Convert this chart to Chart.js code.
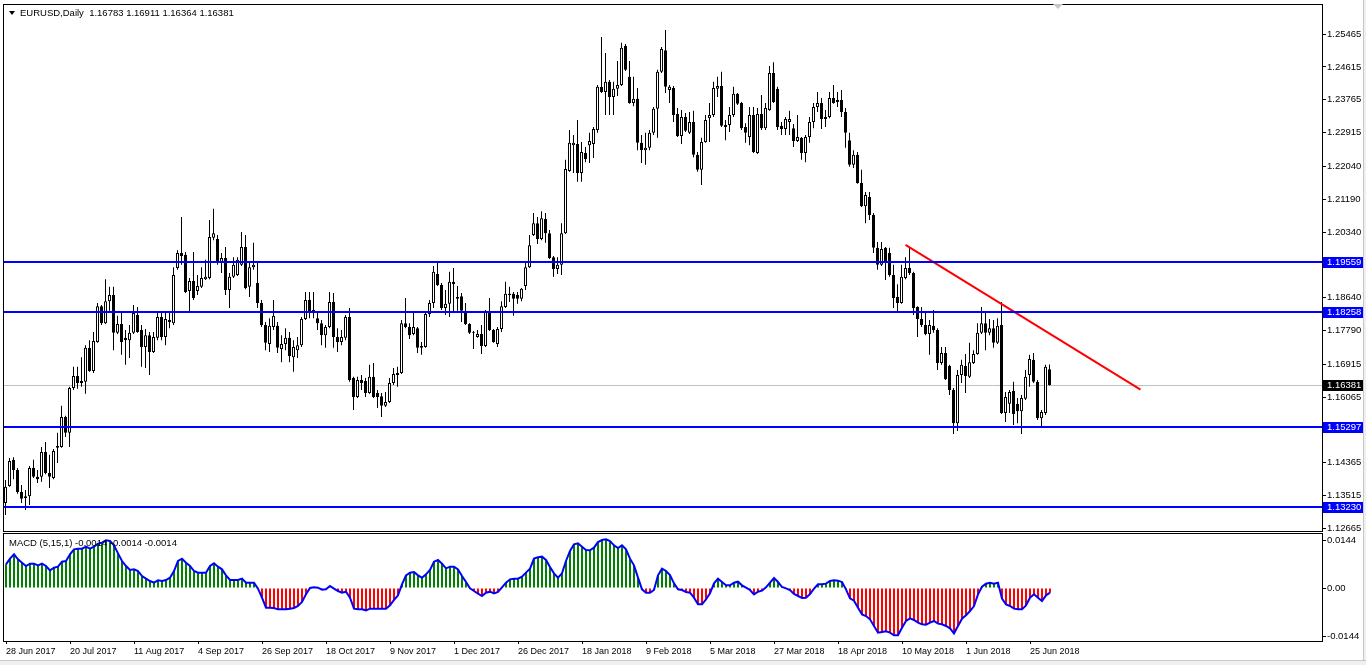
<!DOCTYPE html>
<html><head><meta charset="utf-8">
<script src="https://cdn.jsdelivr.net/npm/chart.js@4.4.1/dist/chart.umd.min.js"></script>
<style>
html,body{margin:0;padding:0;background:#fff;width:1366px;height:665px;overflow:hidden;position:relative;}
canvas{position:absolute;left:0;}
#c1{top:0;}
#c2{top:532px;}
#edgeR{position:absolute;left:1363px;top:0;width:3px;height:665px;background:#f0f0f0;border-left:1px solid #c8c8c8;}
#edgeB{position:absolute;left:0;top:660px;width:1366px;height:5px;background:#f0f0f0;border-top:1px solid #c8c8c8;}
</style></head>
<body>
<canvas id="c1" width="1366" height="532" style="width:1366px;height:532px"></canvas>
<canvas id="c2" width="1366" height="133" style="width:1366px;height:133px"></canvas>
<div id="edgeR"></div><div id="edgeB"></div>
<script>
// ---------------- DATA ----------------
const symbolTitle = 'EURUSD,Daily';
const open = [
1.1332,1.1376,1.1444,1.1418,1.1361,1.1345,1.1350,1.1423,1.1400,1.1400,
1.1464,1.1410,1.1397,1.1475,1.1477,1.1555,1.1514,1.1630,1.1661,1.1643,
1.1646,1.1734,1.1674,1.1749,1.1842,1.1798,1.1855,1.1871,1.1773,1.1796,
1.1760,1.1754,1.1773,1.1819,1.1780,1.1736,1.1767,1.1723,1.1760,1.1814,
1.1762,1.1801,1.1798,1.1941,1.1980,1.1975,1.1881,1.1907,1.1881,1.1892,
1.1912,1.1915,1.2019,1.2016,1.1954,1.1967,1.1884,1.1918,1.1923,1.1949,
1.1995,1.1892,1.1943,1.1902,1.1850,1.1793,1.1744,1.1788,1.1791,1.1731,
1.1744,1.1760,1.1710,1.1728,1.1741,1.1809,1.1858,1.1824,1.1811,1.1798,
1.1767,1.1788,1.1853,1.1762,1.1749,1.1760,1.1814,1.1656,1.1607,1.1651,
1.1648,1.1617,1.1659,1.1617,1.1609,1.1584,1.1594,1.1643,1.1664,1.1669,
1.1798,1.1788,1.1770,1.1785,1.1734,1.1736,1.1822,1.1850,1.1925,1.1897,
1.1837,1.1848,1.1905,1.1866,1.1868,1.1830,1.1796,1.1773,1.1762,1.1770,
1.1739,1.1827,1.1780,1.1744,1.1783,1.1840,1.1871,1.1874,1.1871,1.1861,
1.1894,1.1943,1.2026,1.2057,1.2016,1.2068,1.2031,1.1969,1.1938,1.1949,
1.2031,1.2192,1.2259,1.2262,1.2187,1.2239,1.2259,1.2262,1.2298,1.2410,
1.2397,1.2423,1.2384,1.2405,1.2415,1.2516,1.2436,1.2368,1.2379,1.2265,
1.2246,1.2252,1.2291,1.2353,1.2449,1.2505,1.2402,1.2407,1.2340,1.2283,
1.2332,1.2291,1.2319,1.2234,1.2195,1.2267,1.2329,1.2337,1.2405,1.2412,
1.2311,1.2311,1.2337,1.2392,1.2368,1.2306,1.2280,1.2337,1.2239,1.2340,
1.2303,1.2350,1.2446,1.2405,1.2309,1.2301,1.2319,1.2303,1.2270,1.2278,
1.2239,1.2280,1.2319,1.2358,1.2368,1.2327,1.2332,1.2381,1.2376,1.2376,
1.2345,1.2272,1.2208,1.2234,1.2161,1.2101,1.2125,1.2078,1.1993,1.1949,
1.1993,1.1980,1.1923,1.1866,1.1850,1.1915,1.1941,1.1928,1.1840,1.1809,
1.1793,1.1770,1.1791,1.1780,1.1695,1.1721,1.1687,1.1625,1.1539,1.1664,
1.1687,1.1659,1.1695,1.1718,1.1773,1.1798,1.1773,1.1785,1.1747,1.1793,
1.1565,1.1589,1.1622,1.1589,1.1570,1.1602,1.1664,1.1703,1.1646,1.1552,
1.1565,1.16783];
const high = [
1.1392,1.1449,1.1451,1.1423,1.1379,1.1366,1.1428,1.1444,1.1418,1.1477,
1.1490,1.1457,1.1472,1.1514,1.1584,1.1558,1.1633,1.1685,1.1685,1.1710,
1.1741,1.1754,1.1775,1.1850,1.1845,1.1912,1.1892,1.1892,1.1817,1.1827,
1.1780,1.1793,1.1845,1.1840,1.1793,1.1783,1.1775,1.1775,1.1827,1.1827,
1.1824,1.1824,1.1943,1.1987,1.2073,1.1982,1.1915,1.1982,1.1923,1.1943,
1.1962,1.2065,1.2094,1.2026,1.1980,1.1995,1.1928,1.1969,1.1969,1.2034,
1.2026,1.1954,1.2006,1.1954,1.1858,1.1801,1.1811,1.1858,1.1801,1.1767,
1.1785,1.1775,1.1754,1.1762,1.1814,1.1879,1.1879,1.1879,1.1827,1.1806,
1.1793,1.1879,1.1876,1.1785,1.1780,1.1819,1.1837,1.1659,1.1659,1.1664,
1.1656,1.1690,1.1695,1.1625,1.1617,1.1620,1.1656,1.1682,1.1685,1.1806,
1.1863,1.1798,1.1824,1.1788,1.1749,1.1824,1.1858,1.1946,1.1956,1.1902,
1.1884,1.1931,1.1941,1.1894,1.1876,1.1850,1.1798,1.1778,1.1780,1.1793,
1.1832,1.1863,1.1783,1.1788,1.1855,1.1905,1.1892,1.1879,1.1879,1.1889,
1.1956,1.2026,1.2083,1.2073,1.2088,1.2083,1.2039,1.1972,1.1969,1.2057,
1.2221,1.2298,1.2285,1.2324,1.2267,1.2254,1.2291,1.2306,1.2415,1.2539,
1.2498,1.2428,1.2423,1.2477,1.2524,1.2521,1.2477,1.2436,1.2407,1.2285,
1.2291,1.2298,1.2358,1.2454,1.2513,1.2557,1.2415,1.2412,1.2355,1.2350,
1.2342,1.2345,1.2348,1.2241,1.2278,1.2337,1.2368,1.2423,1.2436,1.2449,
1.2324,1.2358,1.2410,1.2394,1.2371,1.2316,1.2358,1.2358,1.2355,1.2389,
1.2368,1.2464,1.2474,1.2410,1.2319,1.2332,1.2348,1.2314,1.2337,1.2280,
1.2285,1.2332,1.2368,1.2397,1.2381,1.2350,1.2397,1.2415,1.2397,1.2402,
1.2355,1.2291,1.2246,1.2241,1.2195,1.2138,1.2138,1.2083,1.2008,1.2008,
1.1995,1.1993,1.1949,1.1899,1.1949,1.1969,1.1995,1.1931,1.1842,1.1840,
1.1824,1.1806,1.1832,1.1785,1.1736,1.1736,1.1690,1.1630,1.1677,1.1703,
1.1718,1.1747,1.1728,1.1798,1.1840,1.1824,1.1809,1.1806,1.1811,1.1853,
1.1620,1.1625,1.1646,1.1604,1.1612,1.1677,1.1716,1.1721,1.1651,1.1573,
1.1690,1.16911];
const low = [
1.1301,1.1374,1.1394,1.1356,1.1332,1.1314,1.1327,1.1397,1.1384,1.1387,
1.1407,1.1371,1.1394,1.1436,1.1475,1.1503,1.1477,1.1625,1.1628,1.1633,
1.1615,1.1672,1.1669,1.1747,1.1793,1.1796,1.1830,1.1728,1.1770,1.1716,
1.1690,1.1708,1.1770,1.1773,1.1685,1.1682,1.1664,1.1721,1.1754,1.1754,
1.1741,1.1785,1.1793,1.1936,1.1949,1.1876,1.1824,1.1858,1.1871,1.1889,
1.1910,1.1912,1.2013,1.1949,1.1928,1.1871,1.1837,1.1915,1.1920,1.1946,
1.1886,1.1866,1.1936,1.1837,1.1788,1.1728,1.1723,1.1780,1.1721,1.1697,
1.1728,1.1697,1.1672,1.1708,1.1736,1.1806,1.1811,1.1811,1.1780,1.1741,
1.1734,1.1785,1.1734,1.1723,1.1741,1.1754,1.1646,1.1573,1.1604,1.1625,
1.1607,1.1615,1.1604,1.1578,1.1555,1.1581,1.1591,1.1638,1.1633,1.1666,
1.1785,1.1757,1.1767,1.1721,1.1716,1.1734,1.1814,1.1837,1.1894,1.1832,
1.1819,1.1814,1.1827,1.1830,1.1801,1.1793,1.1770,1.1731,1.1760,1.1718,
1.1736,1.1778,1.1747,1.1736,1.1775,1.1837,1.1853,1.1817,1.1848,1.1855,
1.1884,1.1941,1.2024,1.2003,1.2013,1.2006,1.1964,1.1918,1.1925,1.1923,
1.2029,1.2190,1.2187,1.2164,1.2164,1.2215,1.2213,1.2226,1.2291,1.2394,
1.2337,1.2337,1.2337,1.2386,1.2412,1.2451,1.2366,1.2360,1.2246,1.2213,
1.2208,1.2246,1.2285,1.2278,1.2446,1.2394,1.2368,1.2319,1.2280,1.2262,
1.2293,1.2288,1.2228,1.2190,1.2156,1.2265,1.2267,1.2332,1.2384,1.2306,
1.2272,1.2293,1.2332,1.2363,1.2298,1.2265,1.2259,1.2239,1.2236,1.2298,
1.2298,1.2348,1.2368,1.2298,1.2285,1.2285,1.2285,1.2254,1.2267,1.2221,
1.2215,1.2265,1.2303,1.2345,1.2301,1.2306,1.2329,1.2366,1.2358,1.2332,
1.2252,1.2203,1.2200,1.2159,1.2099,1.2057,1.2065,1.1980,1.1936,1.1946,
1.1910,1.1918,1.1837,1.1824,1.1848,1.1912,1.1923,1.1819,1.1762,1.1788,
1.1767,1.1716,1.1773,1.1677,1.1690,1.1651,1.1612,1.1511,1.1519,1.1643,
1.1617,1.1656,1.1692,1.1716,1.1770,1.1728,1.1767,1.1734,1.1744,1.1563,
1.1542,1.1565,1.1534,1.1539,1.1511,1.1599,1.1633,1.1643,1.1547,1.1529,
1.1560,1.16364];
const close = [
1.1374,1.1441,1.1418,1.1361,1.1343,1.1350,1.1423,1.1400,1.1394,1.1464,
1.1410,1.1400,1.1467,1.1480,1.1555,1.1514,1.1630,1.1661,1.1643,1.1648,
1.1734,1.1674,1.1752,1.1842,1.1798,1.1855,1.1871,1.1773,1.1796,1.1749,
1.1754,1.1773,1.1824,1.1775,1.1736,1.1767,1.1723,1.1762,1.1814,1.1762,
1.1809,1.1806,1.1923,1.1980,1.1972,1.1879,1.1907,1.1863,1.1894,1.1915,
1.1918,1.2021,1.2031,1.1954,1.1967,1.1884,1.1918,1.1949,1.1962,1.1995,
1.1889,1.1943,1.1949,1.1850,1.1793,1.1747,1.1791,1.1817,1.1734,1.1744,
1.1760,1.1713,1.1736,1.1741,1.1809,1.1858,1.1827,1.1832,1.1798,1.1767,
1.1788,1.1853,1.1762,1.1749,1.1762,1.1814,1.1651,1.1607,1.1651,1.1643,
1.1617,1.1659,1.1607,1.1607,1.1584,1.1594,1.1643,1.1666,1.1669,1.1798,
1.1788,1.1767,1.1788,1.1734,1.1739,1.1822,1.1850,1.1931,1.1897,1.1837,
1.1848,1.1905,1.1899,1.1861,1.1830,1.1796,1.1773,1.1775,1.1770,1.1739,
1.1827,1.1780,1.1749,1.1783,1.1842,1.1874,1.1874,1.1861,1.1861,1.1887,
1.1943,1.2000,1.2057,1.2016,1.2070,1.2031,1.1967,1.1938,1.1949,1.2031,
1.2197,1.2265,1.2265,1.2187,1.2241,1.2223,1.2270,1.2301,1.2410,1.2397,
1.2423,1.2384,1.2405,1.2415,1.2511,1.2454,1.2368,1.2379,1.2265,1.2246,
1.2252,1.2291,1.2353,1.2449,1.2508,1.2410,1.2410,1.2337,1.2283,1.2332,
1.2296,1.2319,1.2234,1.2195,1.2267,1.2324,1.2337,1.2407,1.2412,1.2309,
1.2306,1.2337,1.2392,1.2366,1.2303,1.2291,1.2337,1.2241,1.2340,1.2303,
1.2355,1.2446,1.2371,1.2306,1.2301,1.2327,1.2327,1.2270,1.2280,1.2239,
1.2280,1.2319,1.2358,1.2368,1.2327,1.2332,1.2381,1.2368,1.2371,1.2345,
1.2291,1.2208,1.2234,1.2161,1.2101,1.2130,1.2078,1.1993,1.1949,1.1990,
1.1954,1.1923,1.1863,1.1850,1.1918,1.1941,1.1928,1.1837,1.1809,1.1793,
1.1770,1.1793,1.1780,1.1695,1.1721,1.1653,1.1625,1.1539,1.1664,1.1690,
1.1661,1.1697,1.1718,1.1773,1.1798,1.1773,1.1785,1.1747,1.1791,1.1565,
1.1607,1.1620,1.1563,1.1570,1.1604,1.1659,1.1705,1.1646,1.1552,1.1568,
1.1685,1.16381];
const macd = [
0.0071,0.0088,0.0101,0.0086,0.0076,0.0066,0.0073,0.0073,0.0068,0.0073,
0.0066,0.0053,0.0061,0.0064,0.0079,0.0081,0.0101,0.0116,0.0118,0.0118,
0.0124,0.0118,0.0124,0.0133,0.0136,0.0143,0.0141,0.0128,0.0104,0.0081,
0.0066,0.0054,0.0056,0.0051,0.0036,0.0028,0.0021,0.0016,0.0023,0.0021,
0.0024,0.0031,0.0051,0.0081,0.0088,0.0076,0.0066,0.0051,0.0046,0.0046,
0.0046,0.0066,0.0074,0.0064,0.0056,0.0038,0.0024,0.0024,0.0024,0.0028,
0.0016,0.0016,0.0016,-0.0002,-0.0029,-0.0059,-0.0059,-0.0060,-0.0064,-0.0064,
-0.0064,-0.0062,-0.0060,-0.0054,-0.0042,-0.0019,0.0000,0.0002,0.0001,-0.0005,
-0.0004,0.0006,-0.0002,-0.0009,-0.0014,-0.0011,-0.0029,-0.0062,-0.0064,-0.0064,
-0.0067,-0.0062,-0.0062,-0.0062,-0.0062,-0.0062,-0.0052,-0.0036,-0.0022,0.0011,
0.0038,0.0046,0.0048,0.0038,0.0031,0.0041,0.0054,0.0079,0.0084,0.0073,
0.0059,0.0064,0.0064,0.0056,0.0036,0.0018,-0.0001,-0.0009,-0.0017,-0.0024,
-0.0014,-0.0011,-0.0016,-0.0012,0.0002,0.0016,0.0026,0.0028,0.0028,0.0034,
0.0046,0.0058,0.0088,0.0092,0.0094,0.0084,0.0063,0.0044,0.0031,0.0044,
0.0081,0.0111,0.0131,0.0134,0.0124,0.0114,0.0113,0.0121,0.0138,0.0144,
0.0146,0.0141,0.0128,0.0120,0.0128,0.0116,0.0088,0.0068,0.0031,-0.0004,
-0.0014,-0.0014,-0.0006,0.0038,0.0058,0.0051,0.0039,0.0014,-0.0004,-0.0006,
-0.0012,-0.0014,-0.0029,-0.0049,-0.0049,-0.0034,-0.0016,0.0014,0.0028,0.0018,
0.0008,0.0008,0.0016,0.0019,0.0008,0.0001,-0.0006,-0.0019,-0.0011,-0.0008,
0.0002,0.0016,0.0030,0.0018,0.0003,-0.0001,-0.0006,-0.0018,-0.0024,-0.0030,
-0.0029,-0.0018,-0.0002,0.0011,0.0011,0.0013,0.0021,0.0023,0.0022,0.0018,
-0.0004,-0.0031,-0.0038,-0.0059,-0.0079,-0.0084,-0.0094,-0.0114,-0.0134,-0.0132,
-0.0130,-0.0134,-0.0142,-0.0142,-0.0119,-0.0099,-0.0091,-0.0096,-0.0104,-0.0109,
-0.0110,-0.0104,-0.0099,-0.0107,-0.0109,-0.0114,-0.0121,-0.0136,-0.0114,-0.0092,
-0.0082,-0.0069,-0.0054,-0.0019,0.0004,0.0013,0.0016,0.0013,0.0016,-0.0032,
-0.0049,-0.0054,-0.0062,-0.0064,-0.0064,-0.0052,-0.0029,-0.0019,-0.0029,-0.0039,
-0.0022,-0.0014];
const xTickIdx = [0,16,32,48,64,80,96,112,128,144,160,176,192,208,224,240,256];
const xTickLabels = ['28 Jun 2017','20 Jul 2017','11 Aug 2017','4 Sep 2017','26 Sep 2017','18 Oct 2017','9 Nov 2017','1 Dec 2017','26 Dec 2017','18 Jan 2018','9 Feb 2018','5 Mar 2018','27 Mar 2018','18 Apr 2018','10 May 2018','1 Jun 2018','25 Jun 2018'];
const priceTicks = [1.25465,1.24615,1.23765,1.22915,1.22040,1.21190,1.20340,1.19490,1.18640,1.17790,1.16915,1.16065,1.15215,1.14365,1.13515,1.12665];
const macdTicks = [0.0144, 0, -0.0144];
const macdTickLabels = ['0.0144','0.00','-0.0144'];
const levelPrices = [1.19559, 1.18258, 1.15297, 1.13230];
const trendX = [225, 283.75];
const trendY = [1.2001, 1.1626];

// ---------------- CHARTS ----------------
Chart.defaults.font.family = "'Liberation Sans', Arial, sans-serif";
Chart.defaults.font.size = 9;
Chart.defaults.color = '#000';
const FONT = "9.5px 'Liberation Sans', Arial, sans-serif";
const AXIS_W = 44;
const xMin = -0.375, xMax = -0.375 + 1318/4;
const xMin2 = -0.5, xMax2 = -0.5 + 1318/4;
const last = close.length - 1;
const lastPrice = close[last];

function frame(chart){
  const {ctx, chartArea:a} = chart;
  ctx.save(); ctx.strokeStyle = '#000'; ctx.lineWidth = 1;
  ctx.strokeRect(a.left - 0.5, a.top - 0.5, a.right - a.left + 1, a.bottom - a.top + 1);
  ctx.restore();
}
function badge(ctx, y, text, bg){
  const py = Math.round(y);
  ctx.fillStyle = bg; ctx.fillRect(1323, py - 5, 40, 11);
  ctx.fillStyle = '#fff'; ctx.font = FONT; ctx.textBaseline = 'middle'; ctx.textAlign = 'left';
  ctx.fillText(text, 1327, py + 0.5);
}

const mainDecor = {
  id: 'mainDecor',
  beforeDatasetsDraw(chart){
    const {ctx, chartArea:a, scales:{y}} = chart;
    const py = Math.round(y.getPixelForValue(lastPrice)) + 0.5;
    ctx.save(); ctx.strokeStyle = '#c0c0c0'; ctx.lineWidth = 1;
    ctx.beginPath(); ctx.moveTo(a.left, py); ctx.lineTo(a.right, py); ctx.stroke(); ctx.restore();
  },
  afterDatasetsDraw(chart){
    const {ctx, chartArea:a, scales:{y}} = chart;
    ctx.save(); ctx.strokeStyle = '#0000ff'; ctx.lineWidth = 2;
    levelPrices.forEach(p => {
      const py = Math.round(y.getPixelForValue(p));
      ctx.beginPath(); ctx.moveTo(a.left, py); ctx.lineTo(a.right, py); ctx.stroke();
    });
    ctx.restore();
  },
  afterDraw(chart){
    const {ctx, scales:{y}} = chart;
    frame(chart);
    ctx.save();
    levelPrices.forEach(p => badge(ctx, y.getPixelForValue(p), p.toFixed(5), '#0000ff'));
    badge(ctx, y.getPixelForValue(lastPrice), lastPrice.toFixed(5), '#000000');
    ctx.fillStyle = '#000';
    ctx.beginPath(); ctx.moveTo(9, 11); ctx.lineTo(15, 11); ctx.lineTo(12, 15); ctx.closePath(); ctx.fill();
    ctx.font = FONT; ctx.textBaseline = 'middle'; ctx.textAlign = 'left';
    ctx.fillText(symbolTitle + '  ' + [open[last], high[last], low[last], close[last]].map(v => v.toFixed(5)).join(' '), 20, 13.5);
    ctx.fillStyle = '#c8c8c8';
    ctx.beginPath(); ctx.moveTo(1053, 4); ctx.lineTo(1063, 4); ctx.lineTo(1058, 9); ctx.closePath(); ctx.fill();
    ctx.restore();
  }
};

const macdDecor = {
  id: 'macdDecor',
  afterDraw(chart){
    const {ctx} = chart;
    frame(chart);
    ctx.save(); ctx.fillStyle = '#000'; ctx.font = FONT; ctx.textBaseline = 'middle'; ctx.textAlign = 'left';
    const v = macd[last].toFixed(4);
    ctx.fillText('MACD (5,15,1) ' + v + ' ' + v + ' ' + v, 9, 11);
    ctx.restore();
  }
};

const idx = close.map((_, i) => i);

new Chart(document.getElementById('c1'), {
  type: 'bar',
  data: { datasets: [
    { type: 'line', data: trendX.map((x, k) => ({x, y: trendY[k]})), borderColor: '#ff0000', borderWidth: 2, pointRadius: 0, order: 0 },
    { data: idx.map(i => ({x: i, y: [open[i], close[i]]})),
      backgroundColor: idx.map(i => close[i] >= open[i] ? '#ffffff' : '#000000'),
      borderColor: '#000', borderWidth: 1, borderSkipped: false, barThickness: 3, grouped: false, inflateAmount: 0, order: 1 },
    { data: idx.map(i => ({x: i, y: [low[i], high[i]]})),
      backgroundColor: '#000', borderWidth: 0, barThickness: 1, grouped: false, inflateAmount: 0, order: 2 }
  ]},
  options: {
    responsive: false, animation: false, devicePixelRatio: 1,
    layout: { padding: { left: 4, top: 5, right: 0, bottom: 1 } },
    plugins: { legend: { display: false }, tooltip: { enabled: false } },
    scales: {
      x: { type: 'linear', min: xMin, max: xMax, display: false, offset: false, grid: { offset: false } },
      y: { position: 'right', min: 1.12597, max: 1.26220,
        afterBuildTicks(s){ s.ticks = priceTicks.map(v => ({value: v})); },
        afterFit(s){ s.width = AXIS_W; s.paddingTop = 0; s.paddingBottom = 0; },
        ticks: { autoSkip: false, padding: 1, color: '#000', font: { size: 9.5 }, callback: (v) => Number(v).toFixed(5) },
        grid: { drawOnChartArea: false, tickLength: 4, color: '#000' },
        border: { display: false } }
    }
  },
  plugins: [mainDecor]
});

new Chart(document.getElementById('c2'), {
  type: 'bar',
  data: { datasets: [
    { type: 'line', data: idx.map(i => ({x: i, y: macd[i]})), borderColor: '#0000ff', borderWidth: 2, pointRadius: 0, tension: 0, order: 0 },
    { data: idx.map(i => ({x: i, y: macd[i]})), backgroundColor: macd.map(v => v >= 0 ? '#008000' : '#ff0000'),
      borderWidth: 0, barThickness: 2, grouped: false, inflateAmount: 0, order: 1 }
  ]},
  options: {
    responsive: false, animation: false, devicePixelRatio: 1,
    layout: { padding: { left: 4, top: 2, right: 0, bottom: 6 } },
    plugins: { legend: { display: false }, tooltip: { enabled: false } },
    scales: {
      x: { type: 'linear', min: xMin2, max: xMax2, offset: false,
        afterBuildTicks(s){ s.ticks = xTickIdx.map(v => ({value: v})); },
        afterFit(s){ s.height = 18; s.paddingLeft = 0; s.paddingRight = 0; },
        ticks: { autoSkip: false, maxRotation: 0, minRotation: 0, align: 'start', padding: 2, color: '#000', font: { size: 9 },
          callback: (v, k) => xTickLabels[k] },
        grid: { drawOnChartArea: false, tickLength: 3, color: '#000', offset: false },
        border: { display: false } },
      y: { position: 'right', min: -0.0159, max: 0.0162,
        afterBuildTicks(s){ s.ticks = macdTicks.map(v => ({value: v})); },
        afterFit(s){ s.width = AXIS_W; s.paddingTop = 0; s.paddingBottom = 0; },
        ticks: { autoSkip: false, padding: 1, color: '#000', font: { size: 9.5 }, callback: (v, k) => macdTickLabels[k] },
        grid: { drawOnChartArea: false, tickLength: 4, color: '#000' },
        border: { display: false } }
    }
  },
  plugins: [macdDecor]
});
</script>
</body></html>
